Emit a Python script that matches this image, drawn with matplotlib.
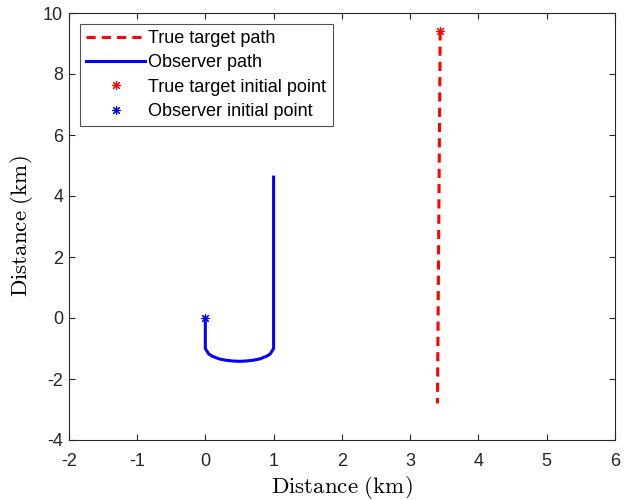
import numpy as np
import matplotlib
matplotlib.use('Agg')
import matplotlib.pyplot as plt

plt.rcParams['font.family'] = ['Liberation Sans', 'DejaVu Sans']
plt.rcParams['mathtext.fontset'] = 'cm'
plt.rcParams['axes.unicode_minus'] = False

# true target path (km)
target_x = [3.44, 3.40]
target_y = [9.40, -2.80]

# observer path (km): down, arc, up
obs_x = [0.0, 0.0, 0.05, 0.10, 0.20, 0.30, 0.40, 0.50, 0.60, 0.70, 0.80, 0.90, 0.95, 1.0, 1.0]
obs_y = [0.0, -1.0, -1.18, -1.25, -1.34, -1.385, -1.41, -1.42, -1.41, -1.385, -1.34, -1.25, -1.18, -1.0, 4.62]

target_start = (3.44, 9.40)
obs_start = (0.0, 0.0)

xticks = [-2, -1, 0, 1, 2, 3, 4, 5, 6]
yticks = [-4, -2, 0, 2, 4, 6, 8, 10]

fig = plt.figure(figsize=(6.25, 5), dpi=100)
ax = fig.add_axes([0.11, 0.12, 0.874, 0.854])

asterisk = (8, 2, 0)
ax.plot(target_x, target_y, 'r--', lw=2.2, dashes=(3, 2), label='True target path')
ax.plot(obs_x, obs_y, color='b', lw=2.2, label='Observer path')
ax.plot(*target_start, ls='none', marker=asterisk, color='r', ms=6.5, mew=0.8, label='True target initial point')
ax.plot(*obs_start, ls='none', marker=asterisk, color='b', ms=6.5, mew=0.8, label='Observer initial point')

ax.set_xlim(-2, 6)
ax.set_ylim(-4, 10)
ax.set_xticks(xticks)
ax.set_yticks(yticks)
ax.tick_params(direction='in', top=True, right=True, labelsize=13, colors='#262626', length=4)
ax.tick_params(axis='x', pad=9)
ax.tick_params(axis='y', pad=4)
for s in ax.spines.values():
    s.set_color('#262626')
    s.set_linewidth(0.8)

ax.set_xlabel(r'$\mathrm{Distance\ (km)}$', fontsize=16.5, labelpad=3)
ax.set_ylabel(r'$\mathrm{Distance\ (km)}$', fontsize=16.5, labelpad=6)

leg = ax.legend(loc='upper left', fontsize=13, frameon=True, fancybox=False,
                edgecolor='#262626', handlelength=3.3, handletextpad=0.15,
                borderpad=0.35, labelspacing=0.4, borderaxespad=0.6)
leg.get_frame().set_linewidth(0.8)

fig.savefig('out.png', dpi=100)
